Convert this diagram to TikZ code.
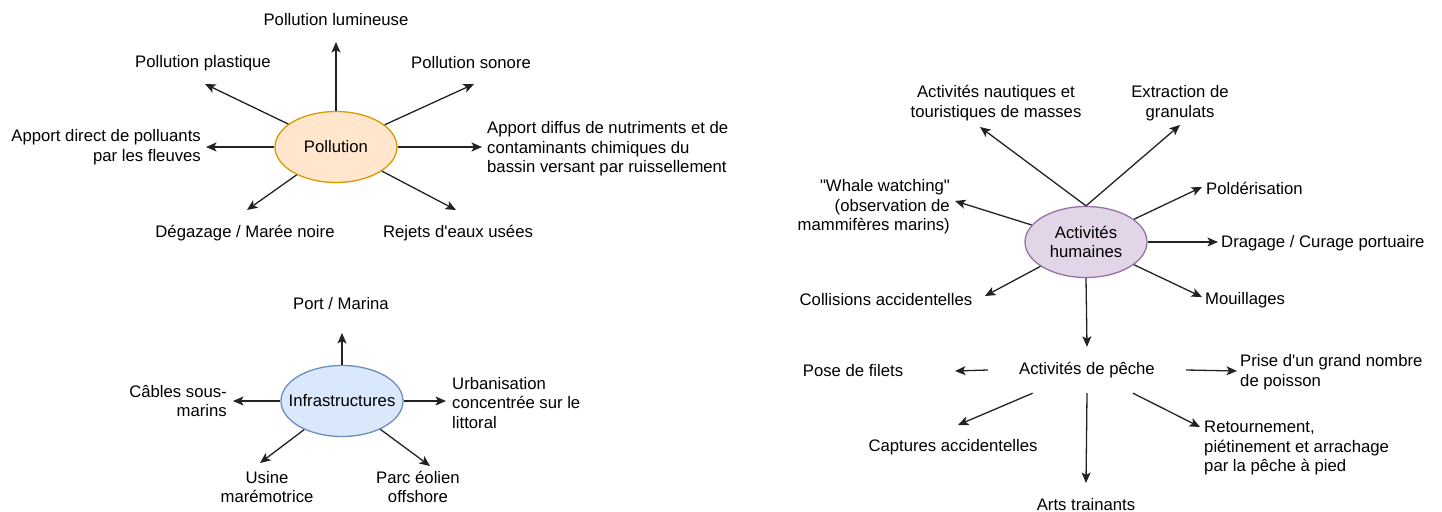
\documentclass[tikz,border=0pt]{standalone}
\usepackage{fontspec}
\setmainfont{Liberation Sans}[Ligatures=TeXOff]
\usetikzlibrary{shapes.geometric,arrows.meta}
\definecolor{orF}{HTML}{FFE6CC}
\definecolor{orD}{HTML}{D79B00}
\definecolor{blF}{HTML}{DAE8FC}
\definecolor{blD}{HTML}{6C8EBF}
\definecolor{puF}{HTML}{E1D5E7}
\definecolor{puD}{HTML}{9673A6}
\definecolor{lineC}{HTML}{222222}
\begin{document}
\begin{tikzpicture}[x=1pt,y=-1pt,
  every node/.style={font=\fontsize{16.7}{19.5}\selectfont, inner sep=0pt, text=black},
  hub/.style={ellipse, draw, line width=1.3pt, minimum width=122pt, minimum height=71pt, align=center},
  arr/.style={-{Stealth[length=10.5pt,width=9pt,inset=2.5pt]}, line width=1.3pt, draw=lineC}]
\useasboundingbox (0,0) rectangle (1442,511);

% ---------------- Pollution ----------------
\node[hub, fill=orF, draw=orD] (pol) at (336,147) {Pollution};
\node (pl) at (336,20) {Pollution lumineuse};
\node (pp) at (203,63) {Pollution plastique};
\node (ps) at (471,63) {Pollution sonore};
\node[anchor=east, align=right] (ad) at (201,147) {Apport direct de polluants\\par les fleuves};
\node[anchor=west, align=left] (af) at (487,149) {Apport diffus de nutriments et de\\contaminants chimiques du\\bassin versant par ruissellement};
\node (dg) at (245,233) {Dégazage / Marée noire};
\node (re) at (458,233) {Rejets d'eaux usées};

\coordinate (pl-t) at (336,42);
\coordinate (pp-t) at (205,84);
\coordinate (ps-t) at (474,84);
\coordinate (ad-t) at (206,147);
\coordinate (af-t) at (482,147);
\coordinate (dg-t) at (247,210);
\coordinate (re-t) at (456,210);

\draw[arr] (pol.north) -- (pl-t);
\draw[arr] (pol) -- (pp-t);
\draw[arr] (pol) -- (ps-t);
\draw[arr] (pol.west) -- (ad-t);
\draw[arr] (pol.east) -- (af-t);
\draw[arr] (pol) -- (dg-t);
\draw[arr] (pol) -- (re-t);

% ---------------- Infrastructures ----------------
\node[hub, fill=blF, draw=blD] (inf) at (342,401) {\makebox[0pt]{Infrastructures}};
\node (pm) at (341,304) {Port / Marina};
\node[anchor=east, align=right] (cb) at (227,401) {Câbles sous-\\marins};
\node[anchor=west, align=left] (ur) at (452,403) {Urbanisation\\concentrée sur le\\littoral};
\node[align=center] (us) at (267,487) {Usine\\marémotrice};
\node[align=center] (pe2) at (418,487) {Parc éolien\\offshore};

\coordinate (pm-t) at (342,333);
\coordinate (cb-t) at (233,401);
\coordinate (ur-t) at (446,401);
\coordinate (us-t) at (260,463);
\coordinate (pe2-t) at (430,466);

\draw[arr] (inf.north) -- (pm-t);
\draw[arr] (inf.west) -- (cb-t);
\draw[arr] (inf.east) -- (ur-t);
\draw[arr] (inf) -- (us-t);
\draw[arr] (inf) -- (pe2-t);

% ---------------- Activites humaines ----------------
\node[hub, fill=puF, draw=puD] (ah) at (1086,242) {Activités\\humaines};
\node[align=center] (an) at (996,103) {Activités nautiques et\\touristiques de masses};
\node[align=center] (ex) at (1180,103) {Extraction de\\granulats};
\node[anchor=east, align=right] (wh) at (950,207) {"Whale watching"\\(observation de\\mammifères marins)};
\node[anchor=west] (po) at (1206,188) {Poldérisation};
\node[anchor=west] (dr) at (1221,243) {Dragage / Curage portuaire};
\node (co) at (886,300) {Collisions accidentelles};
\node[anchor=west] (mo) at (1205,300) {Mouillages};

\coordinate (an-t) at (980,127);
\coordinate (ex-t) at (1180,125);
\coordinate (wh-t) at (955,201);
\coordinate (po-t) at (1202,187);
\coordinate (dr-t) at (1218,242);
\coordinate (co-t) at (985,296);
\coordinate (mo-t) at (1202,297);

\draw[arr] (ah.north) -- (an-t);
\draw[arr] (ah.north) -- (ex-t);
\draw[arr] (ah) -- (wh-t);
\draw[arr] (ah) -- (po-t);
\draw[arr] (ah.east) -- (dr-t);
\draw[arr] (ah) -- (co-t);
\draw[arr] (ah) -- (mo-t);

% ---------------- Activites de peche ----------------
\node[rectangle, minimum width=198pt, minimum height=46pt] (pe) at (1087,370) {Activités de pêche};
\draw[arr] (ah.south) -- (pe.north);

\node (pf) at (853,371) {Pose de filets};
\node[anchor=west, align=left] (pr) at (1240,372) {Prise d'un grand nombre\\de poisson};
\node (ca) at (953,447) {Captures accidentelles};
\node[anchor=west, align=left] (rt) at (1204,448) {Retournement,\\piétinement et arrachage\\par la pêche à pied};
\node (at) at (1086,505) {Arts trainants};

\coordinate (pf-t) at (955,371);
\coordinate (pr-t) at (1237,371);
\coordinate (ca-t) at (958,425);
\coordinate (rt-t) at (1200,427);
\coordinate (at-t) at (1086,483);

\draw[arr] (pe.west) -- (pf-t);
\draw[arr] (pe.east) -- (pr-t);
\draw[arr] (pe) -- (ca-t);
\draw[arr] (pe) -- (rt-t);
\draw[arr] (pe.south) -- (at-t);
\end{tikzpicture}
\end{document}
